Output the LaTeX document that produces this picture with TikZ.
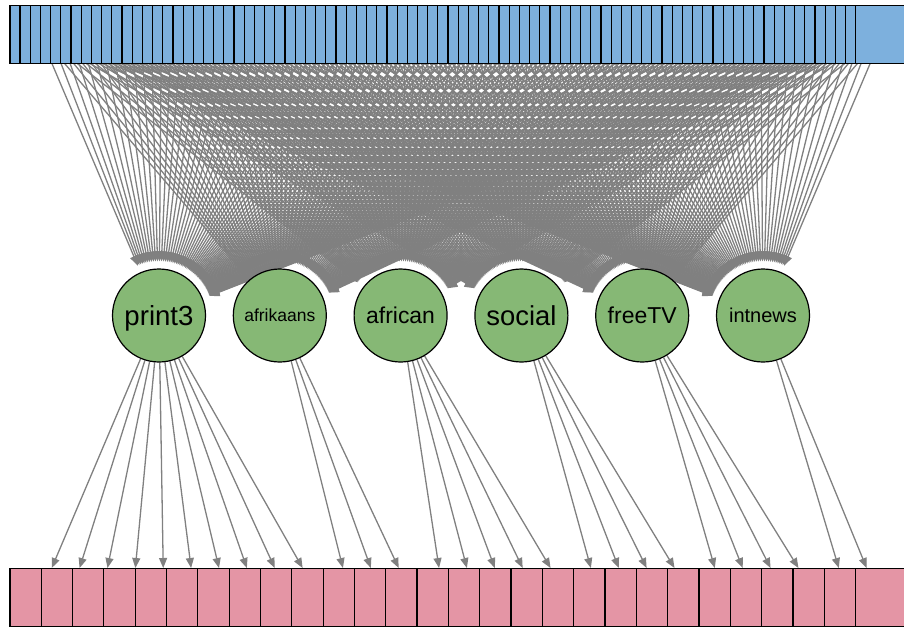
\documentclass[tikz,border=0pt]{standalone}
\usepackage{fontspec}
\newfontfamily\lab{Liberation Sans}
\usetikzlibrary{arrows.meta,calc}
\pgfdeclarelayer{bg}
\pgfsetlayers{bg,main}
\definecolor{topblue}{HTML}{7DB0DD}
\definecolor{botpink}{HTML}{E495A5}
\definecolor{latgreen}{HTML}{86B875}
\definecolor{edgegray}{HTML}{808080}
\begin{document}
\begin{tikzpicture}[x=1pt,y=-1pt,
  topbox/.style={draw=black, line width=1.2pt, fill=topblue, inner sep=0pt, anchor=north west, minimum height=58pt},
  botbox/.style={draw=black, line width=1.2pt, fill=botpink, inner sep=0pt, anchor=north west, minimum height=58pt},
  lat/.style={circle, draw=black, line width=1.2pt, fill=latgreen, minimum size=93pt, inner sep=0pt, text depth=0pt},
  topedge/.style={draw=edgegray, line width=1.3pt, -{Triangle[length=10pt,width=8pt]}, shorten >=7pt},
  botedge/.style={draw=edgegray, line width=1.3pt, -{Triangle[length=10pt,width=8pt]}}]
\clip (0,0) rectangle (904,627);
% manifest boxes, top row
\foreach \i in {0,...,82}
  \node[topbox, minimum width=10.19pt] (t\i) at ({9.3+10.19*\i},5) {};
\node[topbox, minimum width=70pt] (t83) at (855,5) {};
% manifest boxes, bottom row
\foreach \i in {0,...,26}
  \node[botbox, minimum width=31.32pt] (b\i) at ({9.3+31.32*\i},568) {};
\node[botbox, minimum width=70pt] (b27) at (855,568) {};
% latent variables
\node[lat, font=\lab\fontsize{27.6pt}{30pt}\selectfont, text height=19.8pt] (print3) at (159,315.5) {print3};
\node[lat, font=\lab\fontsize{17.5pt}{20pt}\selectfont, text height=12.5pt] (afrikaans) at (279.8,315.5) {afrikaans};
\node[lat, font=\lab\fontsize{22.9pt}{25pt}\selectfont, text height=16.4pt] (african) at (400.6,315.5) {african};
\node[lat, font=\lab\fontsize{27.4pt}{30pt}\selectfont, text height=19.6pt] (social) at (521.4,315.5) {social};
\node[lat, font=\lab\fontsize{23pt}{25pt}\selectfont, text height=16.5pt] (freeTV) at (642.2,315.5) {freeTV};
\node[lat, font=\lab\fontsize{20pt}{22pt}\selectfont, text height=14.3pt] (intnews) at (763,315.5) {intnews};
% edge reference points
\foreach \k in {0,...,83}
  \coordinate (et\k) at ({39.4+10.16*\k},34);
\foreach \k in {0,...,27}
  \coordinate (eb\k) at ({39.4+31.08*\k},597);
\begin{pgfonlayer}{bg}
\foreach \c in {print3,afrikaans,african,social,freeTV,intnews}{
  \foreach \k in {0,...,83}{
    \draw[topedge] ($(et\k)!0.103!(\c.center)$) -- (\c);
  }
}
\foreach \c/\a/\b in {print3/0/9,afrikaans/10/12,african/13/17,social/18/21,freeTV/22/25,intnews/26/27}{
  \foreach \k in {\a,...,\b}{
    \draw[botedge] (\c) -- ($(\c.center)!0.897!(eb\k)$);
  }
}
\end{pgfonlayer}
\end{tikzpicture}
\end{document}
